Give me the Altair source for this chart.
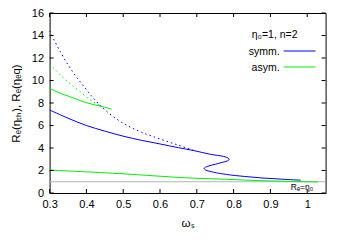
import altair as alt
import pandas as pd

# ---- data ----
blue_solid_w = [0.300, 0.350, 0.400, 0.450, 0.500, 0.550, 0.600, 0.650, 0.692, 0.737, 0.773, 0.785, 0.788,
                0.783, 0.770, 0.750, 0.730, 0.720, 0.724, 0.745, 0.780, 0.830, 0.880, 0.930, 0.982]
blue_solid_R = [7.38, 6.65, 6.00, 5.50, 5.05, 4.68, 4.36, 4.03, 3.77, 3.44, 3.25, 3.10, 2.97,
                2.85, 2.73, 2.55, 2.38, 2.20, 2.05, 1.85, 1.65, 1.47, 1.33, 1.23, 1.14]

blue_dot_w = [0.300, 0.330, 0.360, 0.390, 0.420, 0.450, 0.500, 0.550, 0.600, 0.650, 0.692]
blue_dot_R = [14.4, 12.5, 10.9, 9.6, 8.4, 7.4, 6.2, 5.4, 4.8, 4.25, 3.78]

green_up_w = [0.300, 0.333, 0.369, 0.400, 0.440, 0.469]
green_up_R = [9.30, 8.82, 8.40, 8.02, 7.70, 7.45]

green_dot_w = [0.300, 0.320, 0.340, 0.360, 0.383, 0.405, 0.424, 0.440]
green_dot_R = [11.45, 10.80, 10.15, 9.60, 9.00, 8.40, 8.00, 7.70]

green_low_w = [0.30, 0.40, 0.47, 0.55, 0.61, 0.69, 0.78, 0.87, 0.95, 1.03]
green_low_R = [2.04, 1.88, 1.76, 1.60, 1.47, 1.32, 1.22, 1.10, 1.03, 0.98]

ref_w = [0.30, 1.05]
ref_R = [1.0, 1.0]

x_ticks = [0.3, 0.4, 0.5, 0.6, 0.7, 0.8, 0.9, 1.0]
y_ticks = [0, 2, 4, 6, 8, 10, 12, 14, 16]

legend_names = ["symm.", "asym."]
legend_colors = ["#0000ff", "#00ee00"]

W, H = 276, 180
PL, PT = 41.6, 5
PR = 346 - 16 - PL - W
PB = 242 - 16 - PT - H
FONT = "Liberation Sans"


def df(w, r):
    return pd.DataFrame({"omega": w, "R": r, "i": list(range(len(w)))})


X = alt.X("omega:Q", scale=alt.Scale(domain=[0.3, 1.05], nice=False, zero=False),
          axis=alt.Axis(values=x_ticks, format=".1~f", title="ωₛ", grid=False, ticks=False,
                        domain=False, labelPadding=5, labelFlush=False,
                        titleX=W / 2, titleY=30, titleBaseline="middle", titleAlign="center"))
Y = alt.Y("R:Q", scale=alt.Scale(domain=[0, 16], nice=False),
          axis=alt.Axis(values=y_ticks, title="Rₑ(ηₜₕ), Rₑ(ηₑq)", grid=False, ticks=False,
                        domain=False, labelPadding=6,
                        titleX=-33, titleY=H / 2, titleAngle=270,
                        titleBaseline="middle", titleAlign="center"))
O = alt.Order("i:Q")


def line(w, r, color, dash=None, sw=1.0):
    kw = dict(color=color, strokeWidth=sw, interpolate="catmull-rom")
    if dash:
        kw["strokeDash"] = dash
    return alt.Chart(df(w, r)).mark_line(**kw).encode(x=X, y=Y, order=O)


layers = [
    line(ref_w, ref_R, "#b4b4b4"),
    line(green_low_w, green_low_R, "#00ee00"),
    line(green_up_w, green_up_R, "#00ee00"),
    line(green_dot_w, green_dot_R, "#00ee00", dash=[1.5, 3]),
    line(blue_dot_w, blue_dot_R, "#0000ff", dash=[1.5, 3]),
    line(blue_solid_w, blue_solid_R, "#0000ff"),
]

# inward ticks on all four sides
xt = pd.DataFrame({"omega": x_ticks})
yt = pd.DataFrame({"R": y_ticks})
tick = dict(color="black", strokeWidth=1)
layers += [
    alt.Chart(xt).mark_rule(**tick).encode(x=X, y=alt.value(H), y2=alt.value(H - 4)),
    alt.Chart(xt).mark_rule(**tick).encode(x=X, y=alt.value(0), y2=alt.value(4)),
    alt.Chart(yt).mark_rule(**tick).encode(y=Y, x=alt.value(0), x2=alt.value(4)),
    alt.Chart(yt).mark_rule(**tick).encode(y=Y, x=alt.value(W), x2=alt.value(W - 4)),
]

# reference-line label
lab = pd.DataFrame({"omega": [0.986], "R": [0.55], "t": ["Rₑ=η₀"]})
layers.append(alt.Chart(lab).mark_text(font=FONT, fontSize=8.5, color="black").encode(
    x=X, y=Y, text="t:N"))

# legend (gnuplot style, text left of sample line)
leg = pd.DataFrame({"name": legend_names, "c": legend_colors, "k": [0, 1]})
layers.append(alt.Chart(pd.DataFrame({"t": ["η₀=1, n=2"]})).mark_text(
    font=FONT, fontSize=10.5, align="right", baseline="middle", color="black").encode(
    text="t:N", x=alt.value(248), y=alt.value(22)))
for k, (nm, c) in enumerate(zip(legend_names, legend_colors)):
    yy = 39 + 16 * k
    sub = leg[leg.k == k]
    layers.append(alt.Chart(sub).mark_text(font=FONT, fontSize=10.5, align="right",
                                           baseline="middle", color="black").encode(
        text="name:N", x=alt.value(230), y=alt.value(yy)))
    layers.append(alt.Chart(sub).mark_rule(color=c, strokeWidth=1).encode(
        x=alt.value(234), x2=alt.value(266), y=alt.value(yy - 1)))

chart = alt.layer(*layers).properties(
    width=W, height=H, background="white",
    autosize=alt.AutoSizeParams(type="none"),
    padding={"left": PL, "top": PT, "right": PR, "bottom": PB}
).configure_view(stroke="black", strokeWidth=1).configure_axis(
    labelFont=FONT, labelFontSize=11, titleFont=FONT, titleFontSize=11.5,
    titleFontWeight="normal", labelColor="black", titleColor="black"
)

chart.save("out.html", embed_options={"renderer": "svg", "actions": False})
